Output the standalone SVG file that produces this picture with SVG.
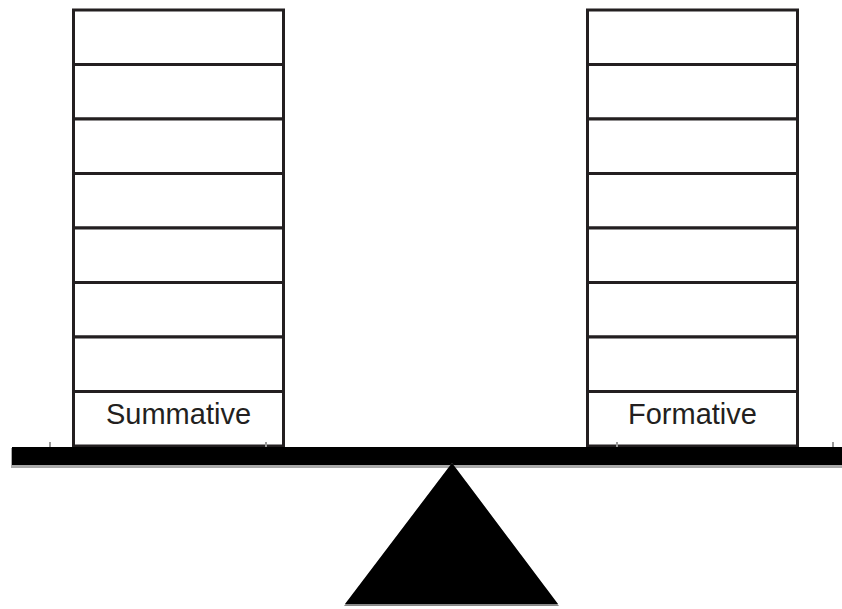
<svg xmlns="http://www.w3.org/2000/svg" width="842" height="609" viewBox="0 0 842 609">
<style>
.box{fill:#fff;stroke:#231f20;stroke-width:3}
.lbl{font-family:"Liberation Sans",Arial,sans-serif;font-size:29px;fill:#231f20;text-anchor:middle}
.tick{stroke:#999;stroke-width:2}
</style>
<rect width="842" height="609" fill="#fff"/>
<g id="left-stack">
<rect class="box" x="73.5" y="10" width="210" height="54.5"/>
<rect class="box" x="73.5" y="64.5" width="210" height="54.5"/>
<rect class="box" x="73.5" y="119" width="210" height="54.5"/>
<rect class="box" x="73.5" y="173.5" width="210" height="54.5"/>
<rect class="box" x="73.5" y="228" width="210" height="54.5"/>
<rect class="box" x="73.5" y="282.5" width="210" height="54.5"/>
<rect class="box" x="73.5" y="337" width="210" height="54.5"/>
<rect class="box" x="73.5" y="391.5" width="210" height="54.5"/>
<text class="lbl" x="178.5" y="424">Summative</text>
</g>
<g id="right-stack">
<rect class="box" x="587.5" y="10" width="210" height="54.5"/>
<rect class="box" x="587.5" y="64.5" width="210" height="54.5"/>
<rect class="box" x="587.5" y="119" width="210" height="54.5"/>
<rect class="box" x="587.5" y="173.5" width="210" height="54.5"/>
<rect class="box" x="587.5" y="228" width="210" height="54.5"/>
<rect class="box" x="587.5" y="282.5" width="210" height="54.5"/>
<rect class="box" x="587.5" y="337" width="210" height="54.5"/>
<rect class="box" x="587.5" y="391.5" width="210" height="54.5"/>
<text class="lbl" x="692.5" y="424">Formative</text>
</g>
<g id="beam">
<line class="tick" x1="50" y1="442" x2="50" y2="450"/>
<line class="tick" x1="266" y1="442" x2="266" y2="450"/>
<line class="tick" x1="617" y1="442" x2="617" y2="450"/>
<line class="tick" x1="833" y1="442" x2="833" y2="450"/>
<rect x="11" y="448" width="831" height="20" fill="#aaa"/>
<rect x="12" y="447" width="830" height="18" fill="#000"/>
</g>
<g id="fulcrum">
<polygon points="452,463 344,606 559,606" fill="#888"/>
<polygon points="452,463 345,604 558,604" fill="#000"/>
</g>
</svg>
